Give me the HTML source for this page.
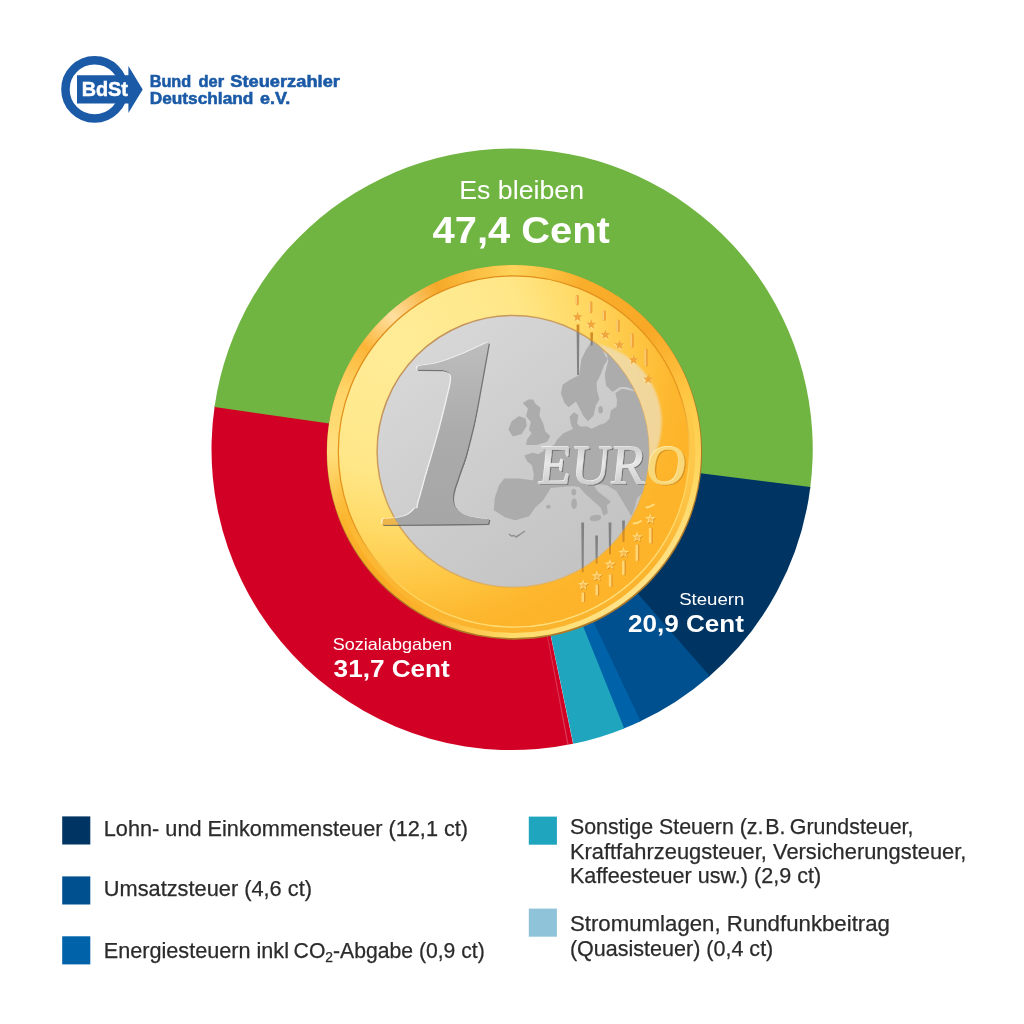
<!DOCTYPE html>
<html lang="de">
<head>
<meta charset="utf-8">
<title>Bund der Steuerzahler – Was vom Euro bleibt</title>
<style>
html,body{margin:0;padding:0;background:#fff;}
body{width:1024px;height:1024px;position:relative;overflow:hidden;font-family:"Liberation Sans",sans-serif;}
svg{position:absolute;left:0;top:0;}
.rim{position:absolute;left:326.5px;top:264.9px;width:374.4px;height:372.7px;border-radius:50%;
background:conic-gradient(from 0deg,#FFD35A 0deg,#F9AE2B 22deg,#F8A826 48deg,#FFCB48 75deg,#FFD65E 95deg,#FFE080 120deg,#FFE388 145deg,#FFDC6C 180deg,#FCB22B 208deg,#FAAB24 228deg,#FBB42C 248deg,#FFDF7C 270deg,#FFD468 290deg,#FBB537 305deg,#FFDFA0 318deg,#F6A828 335deg,#FFD35A 360deg);}
text{font-family:"Liberation Sans",sans-serif;}
.num text{font-family:"Liberation Serif",serif;font-style:italic;font-weight:bold;font-size:270px;}
.euro text{font-family:"Liberation Serif",serif;font-size:56px;}
.leg{fill:#2b2b2b;font-size:21.4px;stroke:#2b2b2b;stroke-width:0.25px;}
.w{fill:#fff;}
.b{font-weight:bold;}
.logo{fill:#1B5AA6;font-weight:bold;font-size:16.3px;stroke:#1B5AA6;stroke-width:0.55px;}
</style>
</head>
<body>
<!-- PIE -->
<svg id="pie" width="1024" height="1024" viewBox="0 0 1024 1024">
<path d="M512.1,449.5 L573.06,743.85 A300.6,300.6 0 0 1 214.79,405.17 Z" fill="#D20024"/>
<path d="M512.1,449.5 L214.52,406.99 A300.6,300.6 0 0 1 810.11,488.89 Z" fill="#70B541"/>
<path d="M512.1,449.5 L810.34,487.07 A300.6,300.6 0 0 1 708.32,677.22 Z" fill="#003462"/>
<path d="M512.1,449.5 L709.71,676.02 A300.6,300.6 0 0 1 638.90,722.05 Z" fill="#00508F"/>
<path d="M512.1,449.5 L640.56,721.27 A300.6,300.6 0 0 1 622.51,729.09 Z" fill="#0062A8"/>
<path d="M512.1,449.5 L624.22,728.41 A300.6,300.6 0 0 1 573.31,743.80 Z" fill="#1FA5BE"/>
<path d="M512.1,449.5 L568.68,744.73 A300.6,300.6 0 0 1 567.40,744.97 Z" fill="#E8A0B0" opacity="0.35"/>
<ellipse cx="514.4" cy="452.6" rx="187.7" ry="187.1" fill="#AE7A28"/>
</svg>
<!-- COIN RIM -->
<div class="rim"></div>
<!-- COIN + TEXT -->
<svg id="coin" width="1024" height="1024" viewBox="0 0 1024 1024">
<defs>
<radialGradient id="gband" gradientUnits="userSpaceOnUse" cx="395" cy="345" r="300">
<stop offset="0" stop-color="#FFEC98"/><stop offset="0.42" stop-color="#FFE788"/><stop offset="0.62" stop-color="#FFDA66"/><stop offset="0.8" stop-color="#FEC643"/><stop offset="0.93" stop-color="#FDB82F"/><stop offset="1" stop-color="#FDB42B"/>
</radialGradient>
<linearGradient id="gsilver" gradientUnits="userSpaceOnUse" x1="400" y1="330" x2="600" y2="580">
<stop offset="0" stop-color="#D9D9D9"/><stop offset="0.5" stop-color="#CDCDCD"/><stop offset="1" stop-color="#C2C2C2"/>
</linearGradient>
<linearGradient id="ginner" gradientUnits="userSpaceOnUse" x1="470" y1="300" x2="540" y2="640">
<stop offset="0" stop-color="#FBB42E" stop-opacity="0"/><stop offset="0.4" stop-color="#FBB42E" stop-opacity="0"/><stop offset="0.6" stop-color="#FCBE3C" stop-opacity="0.6"/><stop offset="0.85" stop-color="#FBB42E" stop-opacity="1"/><stop offset="1" stop-color="#FBB42E" stop-opacity="1"/>
</linearGradient>
<linearGradient id="gline" gradientUnits="userSpaceOnUse" x1="450" y1="300" x2="580" y2="620">
<stop offset="0" stop-color="#E08E1A"/><stop offset="0.5" stop-color="#E8981F"/><stop offset="0.72" stop-color="#FFD35A"/><stop offset="1" stop-color="#FFE080"/>
</linearGradient>
<linearGradient id="gedge" gradientUnits="userSpaceOnUse" x1="420" y1="300" x2="600" y2="640">
<stop offset="0" stop-color="#C98A2A" stop-opacity="0"/><stop offset="0.55" stop-color="#C98A2A" stop-opacity="0"/><stop offset="0.85" stop-color="#B9832C" stop-opacity="0.9"/><stop offset="1" stop-color="#A87424" stop-opacity="1"/>
</linearGradient>
<linearGradient id="gsedge" gradientUnits="userSpaceOnUse" x1="400" y1="340" x2="620" y2="570">
<stop offset="0" stop-color="#C08E58" stop-opacity="1"/><stop offset="0.5" stop-color="#CC9850" stop-opacity="0.75"/><stop offset="1" stop-color="#E8B050" stop-opacity="0.4"/>
</linearGradient>
<linearGradient id="gone" gradientUnits="userSpaceOnUse" x1="0" y1="-178" x2="0" y2="0">
<stop offset="0" stop-color="#BDBDBD"/><stop offset="0.5" stop-color="#ABABAB"/><stop offset="1" stop-color="#A6A6A6"/>
</linearGradient>
<filter id="blur1" x="-10%" y="-10%" width="120%" height="120%"><feGaussianBlur stdDeviation="1.3"/></filter>
<clipPath id="silverclip"><circle cx="513.0" cy="451.4" r="135.9"/></clipPath>
<linearGradient id="geuro" gradientUnits="userSpaceOnUse" x1="0" y1="-38" x2="0" y2="0">
<stop offset="0" stop-color="#CDCDCD"/><stop offset="0.45" stop-color="#E8E8E8"/><stop offset="1" stop-color="#CFCFCF"/>
</linearGradient>
<clipPath id="oneclip"><path d="M489.8,341.8 C489.0,346.7 487.0,359.3 484.8,371.0 C482.6,382.7 479.7,398.3 476.6,412.0 C473.5,425.7 469.5,442.2 466.4,453.1 C463.3,464.1 460.3,471.4 458.2,477.7 C456.1,484.0 454.9,487.2 454.0,491.0 C453.1,494.8 452.8,497.3 453.1,500.2 C453.5,503.1 454.2,506.0 456.1,508.4 C458.0,510.8 460.9,513.0 464.3,514.6 C467.7,516.2 472.4,517.0 476.6,517.7 C480.8,518.4 487.2,518.7 489.3,518.9 L488.2,523.8 L382.0,524.8 L383.0,518.9 C386.0,518.6 396.1,518.1 400.8,517.0 C405.5,515.9 408.1,515.0 411.0,512.5 C413.9,510.1 416.1,506.7 418.2,502.3 C420.2,497.9 421.1,493.4 423.3,485.9 C425.5,478.4 428.8,466.8 431.5,457.2 C434.2,447.6 437.1,438.0 439.7,428.4 C442.3,418.8 445.0,407.7 446.9,399.7 C448.8,391.7 450.6,384.9 451.0,380.5 C451.4,376.1 450.9,374.9 449.5,373.2 C448.1,371.4 443.7,370.5 442.5,370.0 L417.0,369.8 L417.6,366.2 C421.0,365.6 430.9,364.6 437.7,362.8 C444.5,361.0 451.7,358.2 458.2,355.6 C464.7,353.0 471.3,349.7 476.6,347.4 C481.9,345.1 487.6,342.7 489.8,341.8 Z"/></clipPath>
<clipPath id="goldclip"><path d="M0,0H1024V1024H0Z M513.0,315.5 a135.9,135.9 0 1 0 0.01,0 Z" clip-rule="evenodd"/></clipPath>
</defs>
<circle cx="513.9" cy="451.3" r="178.6" fill="none" stroke="url(#ginner)" stroke-width="6"/>
<circle cx="513.9" cy="451.5" r="175.6" fill="url(#gband)" stroke="url(#gline)" stroke-width="1.3"/>
<!-- crescent -->
<g clip-path="url(#goldclip)"><circle cx="581.7" cy="422.3" r="80" fill="#EEDDB4" opacity="0.8" filter="url(#blur1)"/></g>
<circle cx="513.0" cy="451.4" r="135.9" fill="url(#gsilver)"/>
<circle cx="513.0" cy="451.4" r="135.9" fill="none" stroke="url(#gsedge)" stroke-width="1.5"/>
<g id="map" clip-path="url(#silverclip)" fill="#ACACAC" stroke="#ACACAC" stroke-width="1.6" stroke-linejoin="round">
<path d="M591.6,342.9 L586.9,349.9 L582.2,359.3 L579.8,375.7 L570.5,380.4 L563.4,385.1 L561.7,393.3 L565.2,402.7 L568.7,406.2 L576.3,400.3 L578.7,405.0 L583.4,414.4 L588.0,420.2 L592.7,415.5 L595.1,405.0 L598.6,399.1 L596.3,390.9 L595.7,382.7 L599.8,374.5 L603.3,365.2 L606.8,359.3 L604.5,356.0 L600.0,346.0 L596.3,341.0 Z"/>
<path d="M609.1,360.5 L605.6,374.5 L606.8,385.1 L612.7,390.9 L619.7,386.3 L626.7,386.3 L634.0,389.0 L640.0,396.0 L655.0,380.0 L640.0,350.0 L615.0,340.0 L607.0,352.0 Z"/>
<path d="M640.0,396.0 L632.0,391.5 L622.0,389.6 L616.2,393.3 L617.9,400.3 L617.3,407.3 L611.5,410.9 L610.3,419.1 L605.6,423.8 L598.6,426.1 L591.6,429.6 L586.9,427.3 L579.8,427.3 L576.3,423.8 L577.5,415.5 L574.0,413.2 L570.5,416.7 L571.6,423.8 L574.0,429.6 L568.1,432.0 L563.4,434.3 L557.6,440.2 L555.2,445.2 L546.4,450.1 L538.6,455.0 L532.7,453.4 L525.3,456.0 L527.9,460.9 L532.7,464.8 L534.7,474.5 L533.7,481.4 L519.1,479.4 L504.4,479.4 L499.5,486.3 L495.6,498.0 L494.6,509.7 L505.4,516.5 L515.2,519.5 L528.8,515.5 L534.7,506.8 L542.5,499.9 L547.4,492.1 L550.3,487.2 L562.0,486.3 L571.8,485.3 L579.6,486.3 L585.5,493.1 L593.3,499.9 L601.1,506.8 L604.0,514.6 L607.0,512.6 L606.0,504.8 L609.9,501.9 L605.0,498.0 L597.2,492.1 L593.3,486.3 L597.2,483.3 L607.0,484.3 L616.7,490.2 L622.6,499.9 L628.4,509.7 L631.3,514.6 L634.3,505.8 L636.2,498.0 L642.1,492.1 L660.0,486.0 L670.0,440.0 Z"/>
<path d="M528.8,400.3 L523.9,403.2 L528.8,408.1 L526.9,415.9 L531.8,421.8 L529.8,429.6 L532.7,433.5 L527.9,439.4 L526.9,444.3 L536.6,444.3 L546.4,441.3 L549.3,436.4 L544.5,431.6 L542.5,423.8 L538.6,415.9 L539.6,408.1 L534.7,404.2 L532.7,400.3 Z"/>
<path d="M519.1,416.9 L512.2,421.8 L509.3,429.6 L513.2,435.5 L521.0,433.5 L525.9,425.7 L524.9,418.9 Z"/>
<ellipse cx="573.8" cy="492.1" rx="1.6" ry="2.6"/>
<ellipse cx="574.1" cy="503.8" rx="2" ry="4.4"/>
<ellipse cx="548.4" cy="506.8" rx="1.6" ry="1.2"/>
<ellipse cx="595.5" cy="518" rx="5" ry="2.2" transform="rotate(-8 595.5 518)"/>
<ellipse cx="600.7" cy="409.7" rx="1.5" ry="3" />
<ellipse cx="598" cy="476.5" rx="5" ry="2"/>
<path d="M509,534 l2.5,2 l2.5,-0.5 l2,1.5 l4,-2.5 l5,-3.5" fill="none" stroke="#909090" stroke-width="1.5"/>
</g>
<!-- numeral -->
<g class="num">
<g transform="translate(-1.3,-0.5)" opacity="0.65"><g clip-path="url(#oneclip)"><text transform="translate(376.5,524.8) scale(1.05,1.025)" fill="#ffffff" stroke="#ffffff" stroke-width="4" stroke-linejoin="round">1</text></g></g>
<g transform="translate(1.1,1.2)" opacity="0.75"><g clip-path="url(#oneclip)"><text transform="translate(376.5,524.8) scale(1.05,1.025)" fill="#555" stroke="#555" stroke-width="4" stroke-linejoin="round">1</text></g></g>
<g clip-path="url(#oneclip)"><g clip-path="url(#silverclip)"><text transform="translate(376.5,524.8) scale(1.05,1.025)" fill="url(#gone)" stroke="url(#gone)" stroke-width="4" stroke-linejoin="round">1</text></g><g clip-path="url(#goldclip)"><text transform="translate(376.5,524.8) scale(1.05,1.025)" fill="#EDB64C" stroke="#EDB64C" stroke-width="4" stroke-linejoin="round">1</text></g></g>
</g>
<g id="coinmarks">
<path d="M576.6,324.6 h2.8 l-0.5,50.5 h-1.8 Z" fill="#7E7E7E" opacity="0.95" clip-path="url(#silverclip)"/>
<path d="M576.6,324.6 h2.8 l-0.5,50.5 h-1.8 Z" fill="#D08A26" clip-path="url(#goldclip)"/>
<path d="M590.3,332.6 h2.8 l-0.5,12.9 h-1.8 Z" fill="#7E7E7E" opacity="0.95" clip-path="url(#silverclip)"/>
<path d="M590.3,332.6 h2.8 l-0.5,12.9 h-1.8 Z" fill="#D08A26" clip-path="url(#goldclip)"/>
<path d="M581.3,522.5 h2.8 l-0.5,49.8 h-1.8 Z" fill="#7E7E7E" opacity="0.95" clip-path="url(#silverclip)"/>
<path d="M581.3,522.5 h2.8 l-0.5,49.8 h-1.8 Z" fill="#D08A26" clip-path="url(#goldclip)"/>
<path d="M595.2,535.6 h2.8 l-0.5,27.9 h-1.8 Z" fill="#7E7E7E" opacity="0.95" clip-path="url(#silverclip)"/>
<path d="M595.2,535.6 h2.8 l-0.5,27.9 h-1.8 Z" fill="#D08A26" clip-path="url(#goldclip)"/>
<path d="M608.6,522.5 h2.8 l-0.5,31.7 h-1.8 Z" fill="#7E7E7E" opacity="0.95" clip-path="url(#silverclip)"/>
<path d="M608.6,522.5 h2.8 l-0.5,31.7 h-1.8 Z" fill="#D08A26" clip-path="url(#goldclip)"/>
<path d="M622.1,520.5 h2.8 l-0.5,21.5 h-1.8 Z" fill="#7E7E7E" opacity="0.95" clip-path="url(#silverclip)"/>
<path d="M622.1,520.5 h2.8 l-0.5,21.5 h-1.8 Z" fill="#D08A26" clip-path="url(#goldclip)"/>
<rect x="581.9" y="592.3" width="3.4" height="10.0" rx="1.2" fill="#DE9226"/>
<rect x="581.5" y="592.3" width="2.6" height="10.0" rx="1.1" fill="#FFD673"/>
<rect x="595.8" y="584.5" width="3.4" height="11.2" rx="1.2" fill="#DE9226"/>
<rect x="595.4" y="584.5" width="2.6" height="11.2" rx="1.1" fill="#FFD673"/>
<rect x="609.2" y="574.2" width="3.4" height="12.7" rx="1.2" fill="#DE9226"/>
<rect x="608.8" y="574.2" width="2.6" height="12.7" rx="1.1" fill="#FFD673"/>
<rect x="622.4" y="560.5" width="3.4" height="14.7" rx="1.2" fill="#DE9226"/>
<rect x="622.0" y="560.5" width="2.6" height="14.7" rx="1.1" fill="#FFD673"/>
<rect x="635.9" y="544.4" width="3.4" height="16.6" rx="1.2" fill="#DE9226"/>
<rect x="635.5" y="544.4" width="2.6" height="16.6" rx="1.1" fill="#FFD673"/>
<rect x="649.3" y="527.8" width="3.4" height="15.7" rx="1.2" fill="#DE9226"/>
<rect x="648.9" y="527.8" width="2.6" height="15.7" rx="1.1" fill="#FFD673"/>
<rect x="575.6" y="295" width="3.2" height="10.2" rx="1.2" fill="#EFA338"/>
<rect x="575.6" y="295.5" width="1.1" height="9.2" fill="#FFE39A" opacity="0.85"/>
<rect x="589.2" y="301.5" width="3.2" height="11.8" rx="1.2" fill="#EFA338"/>
<rect x="589.2" y="302.0" width="1.1" height="10.8" fill="#FFE39A" opacity="0.85"/>
<rect x="602.7" y="310.6" width="3.2" height="10.2" rx="1.2" fill="#EFA338"/>
<rect x="602.7" y="311.1" width="1.1" height="9.2" fill="#FFE39A" opacity="0.85"/>
<rect x="616.6" y="319.7" width="3.2" height="12.4" rx="1.2" fill="#EFA338"/>
<rect x="616.6" y="320.2" width="1.1" height="11.4" fill="#FFE39A" opacity="0.85"/>
<rect x="630.6" y="333.2" width="3.2" height="14.5" rx="1.2" fill="#EFA338"/>
<rect x="630.6" y="333.7" width="1.1" height="13.5" fill="#FFE39A" opacity="0.85"/>
<rect x="644.6" y="348.8" width="3.2" height="17.7" rx="1.2" fill="#EFA338"/>
<rect x="644.6" y="349.3" width="1.1" height="16.7" fill="#FFE39A" opacity="0.85"/>
<polygon points="576.9,312.2 578.3,315.9 582.2,316.1 579.1,318.5 580.2,322.3 576.9,320.2 573.6,322.3 574.7,318.5 571.6,316.1 575.5,315.9" fill="#FFE9A8" opacity="0.8"/>
<polygon points="577.5,311.8 578.8,315.3 582.5,315.5 579.6,317.8 580.6,321.4 577.5,319.3 574.4,321.4 575.4,317.8 572.5,315.5 576.2,315.3" fill="#F0A63A"/>
<polygon points="590.6,319.7 592.0,323.4 595.9,323.6 592.8,326.0 593.9,329.8 590.6,327.7 587.3,329.8 588.4,326.0 585.3,323.6 589.2,323.4" fill="#FFE9A8" opacity="0.8"/>
<polygon points="591.2,319.3 592.5,322.8 596.2,323.0 593.3,325.3 594.3,328.9 591.2,326.8 588.1,328.9 589.1,325.3 586.2,323.0 589.9,322.8" fill="#F0A63A"/>
<polygon points="604.7,329.9 606.1,333.6 610.0,333.8 606.9,336.2 608.0,340.0 604.7,337.9 601.4,340.0 602.5,336.2 599.4,333.8 603.3,333.6" fill="#FFE9A8" opacity="0.8"/>
<polygon points="605.3,329.5 606.6,333.0 610.3,333.2 607.4,335.5 608.4,339.1 605.3,337.0 602.2,339.1 603.2,335.5 600.3,333.2 604.0,333.0" fill="#F0A63A"/>
<polygon points="618.8,340.1 620.2,343.8 624.1,344.0 621.0,346.4 622.1,350.2 618.8,348.1 615.5,350.2 616.6,346.4 613.5,344.0 617.4,343.8" fill="#FFE9A8" opacity="0.8"/>
<polygon points="619.4,339.7 620.7,343.2 624.4,343.4 621.5,345.7 622.5,349.3 619.4,347.2 616.3,349.3 617.3,345.7 614.4,343.4 618.1,343.2" fill="#F0A63A"/>
<polygon points="633.0,355.1 634.4,358.8 638.3,359.0 635.2,361.4 636.3,365.2 633.0,363.1 629.7,365.2 630.8,361.4 627.7,359.0 631.6,358.8" fill="#FFE9A8" opacity="0.8"/>
<polygon points="633.6,354.7 634.9,358.2 638.6,358.4 635.7,360.7 636.7,364.3 633.6,362.2 630.5,364.3 631.5,360.7 628.6,358.4 632.3,358.2" fill="#F0A63A"/>
<polygon points="647.5,374.5 648.9,378.2 652.8,378.4 649.7,380.8 650.8,384.6 647.5,382.5 644.2,384.6 645.3,380.8 642.2,378.4 646.1,378.2" fill="#FFE9A8" opacity="0.8"/>
<polygon points="648.1,374.1 649.4,377.6 653.1,377.8 650.2,380.1 651.2,383.7 648.1,381.6 645.0,383.7 646.0,380.1 643.1,377.8 646.8,377.6" fill="#F0A63A"/>
<polygon points="583.9,580.1 585.3,583.9 589.3,584.0 586.2,586.5 587.3,590.4 583.9,588.2 580.5,590.4 581.6,586.5 578.5,584.0 582.5,583.9" fill="#D98A1E" opacity="0.8"/>
<polygon points="583.2,579.4 584.6,583.1 588.5,583.3 585.4,585.7 586.5,589.5 583.2,587.4 579.9,589.5 581.0,585.7 577.9,583.3 581.8,583.1" fill="#FFDD80"/>
<polygon points="583.4,582.3 584.1,584.3 586.3,584.4 584.6,585.7 585.2,587.7 583.4,586.6 581.6,587.7 582.2,585.7 580.5,584.4 582.7,584.3" fill="#F6B64A"/>
<polygon points="597.6,571.3 599.0,575.1 603.0,575.2 599.9,577.7 601.0,581.6 597.6,579.4 594.2,581.6 595.3,577.7 592.2,575.2 596.2,575.1" fill="#D98A1E" opacity="0.8"/>
<polygon points="596.9,570.6 598.3,574.3 602.2,574.5 599.1,576.9 600.2,580.7 596.9,578.6 593.6,580.7 594.7,576.9 591.6,574.5 595.5,574.3" fill="#FFDD80"/>
<polygon points="597.1,573.5 597.8,575.5 600.0,575.6 598.3,576.9 598.9,578.9 597.1,577.8 595.3,578.9 595.9,576.9 594.2,575.6 596.4,575.5" fill="#F6B64A"/>
<polygon points="610.7,559.6 612.1,563.4 616.1,563.5 613.0,566.0 614.1,569.9 610.7,567.7 607.3,569.9 608.4,566.0 605.3,563.5 609.3,563.4" fill="#D98A1E" opacity="0.8"/>
<polygon points="610.0,558.9 611.4,562.6 615.3,562.8 612.2,565.2 613.3,569.0 610.0,566.9 606.7,569.0 607.8,565.2 604.7,562.8 608.6,562.6" fill="#FFDD80"/>
<polygon points="610.2,561.8 610.9,563.8 613.1,563.9 611.4,565.2 612.0,567.2 610.2,566.1 608.4,567.2 609.0,565.2 607.3,563.9 609.5,563.8" fill="#F6B64A"/>
<polygon points="624.4,547.8 625.8,551.6 629.8,551.7 626.7,554.2 627.8,558.1 624.4,555.9 621.0,558.1 622.1,554.2 619.0,551.7 623.0,551.6" fill="#D98A1E" opacity="0.8"/>
<polygon points="623.7,547.1 625.1,550.8 629.0,551.0 625.9,553.4 627.0,557.2 623.7,555.1 620.4,557.2 621.5,553.4 618.4,551.0 622.3,550.8" fill="#FFDD80"/>
<polygon points="623.9,550.0 624.6,552.0 626.8,552.1 625.1,553.4 625.7,555.4 623.9,554.3 622.1,555.4 622.7,553.4 621.0,552.1 623.2,552.0" fill="#F6B64A"/>
<polygon points="637.9,532.2 639.3,536.0 643.3,536.1 640.2,538.6 641.3,542.5 637.9,540.3 634.5,542.5 635.6,538.6 632.5,536.1 636.5,536.0" fill="#D98A1E" opacity="0.8"/>
<polygon points="637.2,531.5 638.6,535.2 642.5,535.4 639.4,537.8 640.5,541.6 637.2,539.5 633.9,541.6 635.0,537.8 631.9,535.4 635.8,535.2" fill="#FFDD80"/>
<polygon points="637.4,534.4 638.1,536.4 640.3,536.5 638.6,537.8 639.2,539.8 637.4,538.7 635.6,539.8 636.2,537.8 634.5,536.5 636.7,536.4" fill="#F6B64A"/>
<polygon points="651.0,514.1 652.4,517.9 656.4,518.0 653.3,520.5 654.4,524.4 651.0,522.2 647.6,524.4 648.7,520.5 645.6,518.0 649.6,517.9" fill="#D98A1E" opacity="0.8"/>
<polygon points="650.3,513.4 651.7,517.1 655.6,517.3 652.5,519.7 653.6,523.5 650.3,521.4 647.0,523.5 648.1,519.7 645.0,517.3 648.9,517.1" fill="#FFDD80"/>
<polygon points="650.5,516.3 651.2,518.3 653.4,518.4 651.7,519.7 652.3,521.7 650.5,520.6 648.7,521.7 649.3,519.7 647.6,518.4 649.8,518.3" fill="#F6B64A"/>
<path d="M633.5,523.5 q4,-0.3 7.5,-2.6" fill="none" stroke="#FFDD80" stroke-width="1.8" stroke-linecap="round"/>
<path d="M646.5,507.5 q4,-0.6 7.5,-3" fill="none" stroke="#FFDD80" stroke-width="1.8" stroke-linecap="round"/>
</g>
<!-- EURO -->
<g class="euro">
<g clip-path="url(#silverclip)">
<text transform="translate(538.3,484.9) skewX(-6)" textLength="147.5" lengthAdjust="spacingAndGlyphs" fill="#4a4a4a" opacity="0.6">EURO</text>
<text transform="translate(536.2,482.7) skewX(-6)" textLength="147.5" lengthAdjust="spacingAndGlyphs" fill="#ffffff" opacity="0.85">EURO</text>
<text transform="translate(537,483.6) skewX(-6)" textLength="147.5" lengthAdjust="spacingAndGlyphs" fill="url(#geuro)" stroke="url(#geuro)" stroke-width="0.6">EURO</text>
</g>
<g clip-path="url(#goldclip)">
<text transform="translate(538.3,484.9) skewX(-6)" textLength="147.5" lengthAdjust="spacingAndGlyphs" fill="#C98522" opacity="0.7">EURO</text>
<text transform="translate(536.2,482.7) skewX(-6)" textLength="147.5" lengthAdjust="spacingAndGlyphs" fill="#FFF3C0" opacity="0.9">EURO</text>
<text transform="translate(537,483.6) skewX(-6)" textLength="147.5" lengthAdjust="spacingAndGlyphs" fill="#F8D878" stroke="#F8D878" stroke-width="0.6">EURO</text>
</g>
</g>
</svg>
<!-- LABELS -->
<svg id="labels" width="1024" height="1024" viewBox="0 0 1024 1024">
<text class="w" x="459.2" y="199.2" font-size="25.4" textLength="124.9" lengthAdjust="spacingAndGlyphs">Es bleiben</text>
<text class="w b" x="432.5" y="242.8" font-size="37.6" textLength="177.4" lengthAdjust="spacingAndGlyphs">47,4 Cent</text>
<text class="w" x="679.2" y="605" font-size="16.5" textLength="65.2" lengthAdjust="spacingAndGlyphs">Steuern</text>
<text class="w b" x="628.0" y="632.3" font-size="24" textLength="116.0" lengthAdjust="spacingAndGlyphs">20,9 Cent</text>
<text class="w" x="332.8" y="650" font-size="16.5" textLength="119.2" lengthAdjust="spacingAndGlyphs">Sozialabgaben</text>
<text class="w b" x="333.6" y="677.3" font-size="24" textLength="116.2" lengthAdjust="spacingAndGlyphs">31,7 Cent</text>
<!-- legend -->
<rect x="62.2" y="816.4" width="28.1" height="28.1" fill="#003462"/>
<rect x="62.2" y="876.4" width="28.1" height="28.1" fill="#00508F"/>
<rect x="62.2" y="936.3" width="28.1" height="28.1" fill="#0062A8"/>
<rect x="528.8" y="816.6" width="28.1" height="28.1" fill="#1FA5BE"/>
<rect x="528.8" y="908.6" width="28.1" height="28.1" fill="#8FC3D9"/>
<text class="leg" x="103.8" y="836.1" textLength="364.3" lengthAdjust="spacingAndGlyphs">Lohn- und Einkommensteuer (12,1 ct)</text>
<text class="leg" x="103.8" y="895.9" textLength="208.2" lengthAdjust="spacingAndGlyphs">Umsatzsteuer (4,6 ct)</text>
<text class="leg" x="103.8" y="958" textLength="185.2" lengthAdjust="spacingAndGlyphs">Energiesteuern inkl</text>
<text class="leg" x="293.6" y="958" textLength="191.2" lengthAdjust="spacingAndGlyphs">CO<tspan font-size="14" dy="4">2</tspan><tspan dy="-4">-Abgabe (0,9 ct)</tspan></text>
<text class="leg" x="569.9" y="834.2" textLength="343.5" lengthAdjust="spacingAndGlyphs">Sonstige Steuern (z.&#8201;<tspan dx="-2.5">B.</tspan><tspan dx="-1.5"> Grundsteuer,</tspan></text>
<text class="leg" x="569.9" y="859" textLength="396.5" lengthAdjust="spacingAndGlyphs">Kraftfahrzeugsteuer, Versicherungsteuer,</text>
<text class="leg" x="569.9" y="883.4" textLength="251.2" lengthAdjust="spacingAndGlyphs">Kaffeesteuer usw.) (2,9 ct)</text>
<text class="leg" x="569.9" y="931.4" textLength="320.1" lengthAdjust="spacingAndGlyphs">Stromumlagen, Rundfunkbeitrag</text>
<text class="leg" x="569.9" y="956.2" textLength="203.4" lengthAdjust="spacingAndGlyphs">(Quasisteuer) (0,4 ct)</text>
<!-- logo -->
<circle cx="94.6" cy="89.45" r="29.15" fill="none" stroke="#1B5AA6" stroke-width="8.5"/>
<path d="M77,75.2 H128.4 V66.1 L142.7,89.6 L128.4,113 V103.5 H77 Z" fill="#1B5AA6"/>
<text x="81.7" y="96.4" font-size="19.8" font-weight="bold" fill="#fff" stroke="#fff" stroke-width="0.5" textLength="46.2" lengthAdjust="spacingAndGlyphs">BdSt</text>
<text class="logo" y="86.8"><tspan x="149.7" textLength="41.5" lengthAdjust="spacingAndGlyphs">Bund</tspan> <tspan x="198.5" textLength="25.6" lengthAdjust="spacingAndGlyphs">der</tspan> <tspan x="230.3" textLength="109.6" lengthAdjust="spacingAndGlyphs">Steuerzahler</tspan></text>
<text class="logo" y="103.7"><tspan x="149.7" textLength="103.7" lengthAdjust="spacingAndGlyphs">Deutschland</tspan> <tspan x="260.0" textLength="30.3" lengthAdjust="spacingAndGlyphs">e.V.</tspan></text>
</svg>
</body>
</html>
